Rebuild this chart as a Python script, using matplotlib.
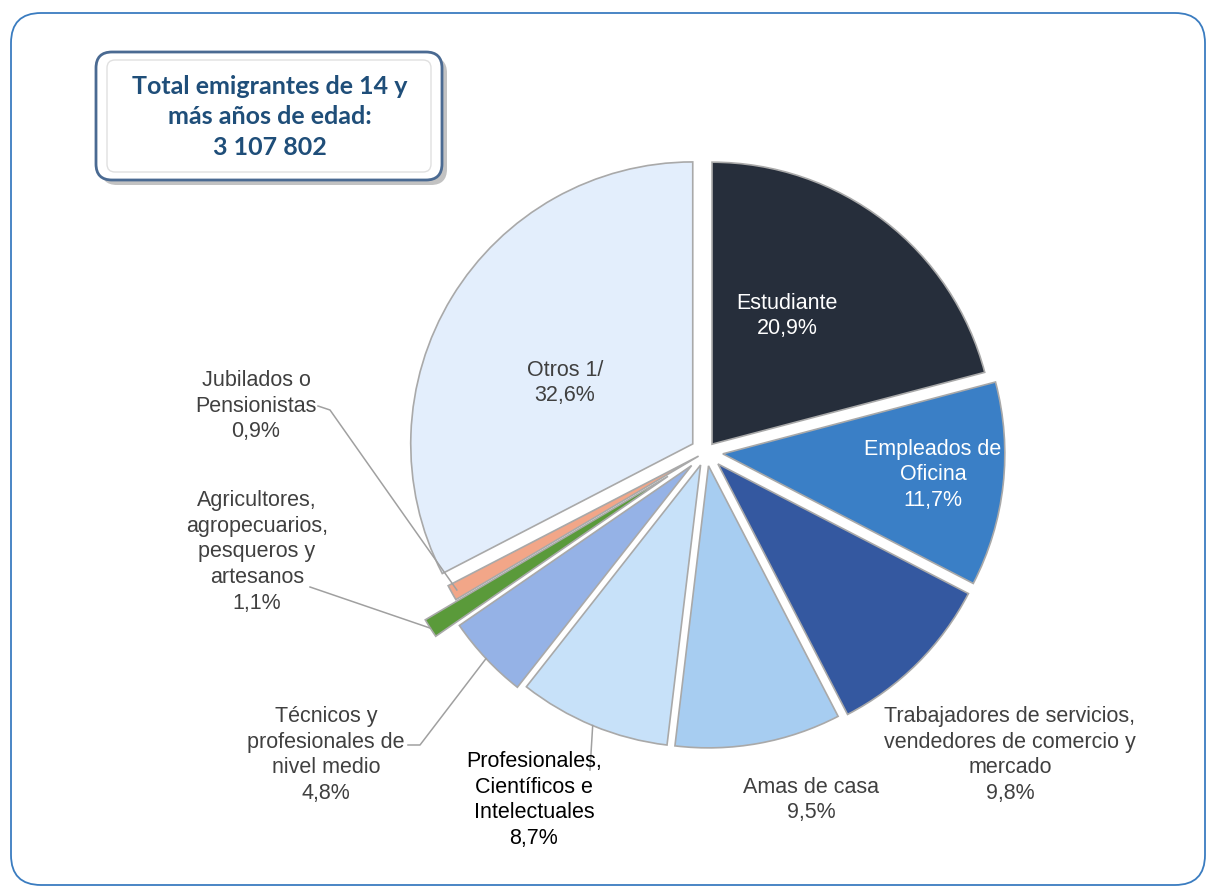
import numpy as np
import matplotlib
matplotlib.use("Agg")
import matplotlib.pyplot as plt
from matplotlib.patches import FancyBboxPatch

# data (clockwise from 12 o'clock)
categories = ["Estudiante", "Empleados de\nOficina", "Trabajadores de servicios,\nvendedores de comercio y\nmercado",
              "Amas de casa", "Profesionales,\nCientíficos e\nIntelectuales", "Técnicos y\nprofesionales de\nnivel medio",
              "Agricultores,\nagropecuarios,\npesqueros y\nartesanos", "Jubilados o\nPensionistas", "Otros 1/"]
shares = [20.9, 11.7, 9.8, 9.5, 8.7, 4.8, 1.1, 0.9, 32.6]
pct_labels = ["20,9%", "11,7%", "9,8%", "9,5%", "8,7%", "4,8%", "1,1%", "0,9%", "32,6%"]
colors = ["#262e3b", "#3a7fc6", "#3458a0", "#a7cdf1", "#c7e1f9", "#95b2e6", "#5a9a3a", "#f2a688", "#e3eefc"]
explode = [0.035, 0.06, 0.06, 0.05, 0.05, 0.07, 0.16, 0.03, 0.055]
title_text = "Total emigrantes de 14 y\nmás años de edad:\n3 107 802"

W, H = 1208, 890
fig = plt.figure(figsize=(W / 100, H / 100), dpi=100)
ax = fig.add_axes([0, 0, 1, 1])
ax.set_xlim(0, W)
ax.set_ylim(0, H)
ax.set_aspect("equal")
ax.axis("off")

def py(y):
    return H - y

# outer frame
frame = FancyBboxPatch((11, py(885)), 1194, 872, boxstyle="round,pad=0,rounding_size=30",
                       fill=False, edgecolor="#3a7cc0", linewidth=1.3)
ax.add_patch(frame)

cx, cy, R = 706, py(452), 282
# pie explode offsets are in data units, so scale the fractions by the radius
wedges, _ = ax.pie(shares, colors=colors, explode=[e * R for e in explode], startangle=90,
                   counterclock=False, center=(cx, cy), radius=R, frame=True,
                   wedgeprops=dict(edgecolor="#a9a9a9", linewidth=1.2))
ax.set_xlim(0, W)
ax.set_ylim(0, H)
ax.axis("off")

font = "Liberation Sans"
fs = 15.5

def wedge_point(i, rfrac):
    w = wedges[i]
    mid = np.deg2rad((w.theta1 + w.theta2) / 2)
    ox, oy = w.center
    return ox + w.r * rfrac * np.cos(mid), oy + w.r * rfrac * np.sin(mid)

def lbl(i):
    return categories[i] + "\n" + pct_labels[i]

# inside labels
ax.text(787, py(316), lbl(0), ha="center", va="center", color="white", fontsize=fs, family=font, linespacing=1.3)
ax.text(933, py(475), lbl(1), ha="center", va="center", color="white", fontsize=fs, family=font, linespacing=1.3)
ax.text(565, py(383), lbl(8), ha="center", va="center", color="#404040", fontsize=fs, family=font, linespacing=1.3)

# outside labels
ax.text(1010, py(755), lbl(2), ha="center", va="center", color="#404040", fontsize=fs, family=font, linespacing=1.3)
ax.text(811, py(800), lbl(3), ha="center", va="center", color="#404040", fontsize=fs, family=font, linespacing=1.3)
ax.text(534, py(800), lbl(4), ha="center", va="center", color="black", fontsize=fs, family=font, linespacing=1.3)
ax.text(326, py(755), lbl(5), ha="center", va="center", color="#404040", fontsize=fs, family=font, linespacing=1.3)
ax.text(257, py(552), lbl(6), ha="center", va="center", color="#404040", fontsize=fs, family=font, linespacing=1.3)
ax.text(256, py(406), lbl(7), ha="center", va="center", color="#404040", fontsize=fs, family=font, linespacing=1.3)

# leader lines
lc = "#a0a0a0"
x4, y4 = wedge_point(4, 1.0)
ax.plot([590, x4], [py(770), y4], color=lc, lw=1.1)
x5, y5 = wedge_point(5, 1.0)
ax.plot([408, 420, x5], [py(745), py(745), y5], color=lc, lw=1.1)
x6, y6 = wedge_point(6, 1.0)
ax.plot([310, x6], [py(587), y6], color=lc, lw=1.1)
x7, y7 = wedge_point(7, 0.98)
ax.plot([318, 330, x7], [py(406), py(410), y7], color=lc, lw=1.1)

# title box with shadow
shadow = FancyBboxPatch((101, py(185)), 346, 128, boxstyle="round,pad=0,rounding_size=16",
                        facecolor="#a8a8a8", edgecolor="none", alpha=0.7)
ax.add_patch(shadow)
box = FancyBboxPatch((96, py(180)), 346, 128, boxstyle="round,pad=0,rounding_size=16",
                     facecolor="white", edgecolor="#4a6a92", linewidth=2)
ax.add_patch(box)
inner = FancyBboxPatch((107, py(172)), 324, 112, boxstyle="round,pad=0,rounding_size=8",
                       facecolor="white", edgecolor="#e0e0e0", linewidth=1)
ax.add_patch(inner)
ax.text(270, py(117), title_text, ha="center", va="center", color="#1f4e79", fontsize=18,
        family="Lato", fontweight="bold", linespacing=1.38)

fig.savefig("out.png", dpi=100)
